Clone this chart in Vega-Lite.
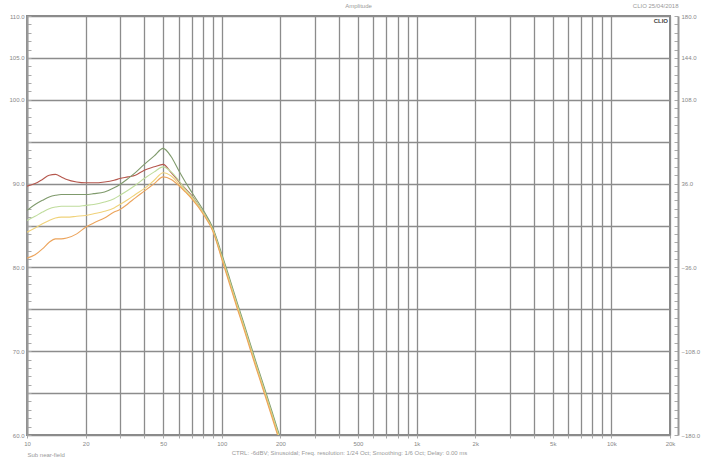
{
  "$schema": "https://vega.github.io/schema/vega-lite/v6.json",
  "autosize": "none",
  "width": 643,
  "height": 419,
  "padding": {"left": 27, "top": 16, "right": 35, "bottom": 32},
  "background": "white",
  "config": {
    "view": {"stroke": "#8a8a8a", "strokeWidth": 2},
    "font": "Liberation Sans",
    "axis": {"labelFontSize": 6, "labelColor": "#888", "titleFontSize": 6, "titleColor": "#999", "titleFontWeight": "normal", "labelOverlap": false}
  },
  "title": {"text": "Amplitude", "anchor": "middle", "fontSize": 6, "color": "#999", "fontWeight": "normal", "offset": -7, "dx": 10},
  "datasets": {
    "curves": [
      {"f":10,"db":89.7,"s":"red"},{"f":11,"db":90.0,"s":"red"},{"f":12,"db":90.5,"s":"red"},{"f":13,"db":91.0,"s":"red"},{"f":14,"db":91.1,"s":"red"},{"f":15,"db":90.8,"s":"red"},{"f":16,"db":90.5,"s":"red"},{"f":18,"db":90.2,"s":"red"},{"f":20,"db":90.1,"s":"red"},{"f":22,"db":90.1,"s":"red"},{"f":25,"db":90.2,"s":"red"},{"f":28,"db":90.4,"s":"red"},{"f":30,"db":90.6,"s":"red"},{"f":33,"db":90.8,"s":"red"},{"f":36,"db":91.0,"s":"red"},{"f":40,"db":91.6,"s":"red"},{"f":45,"db":92.0,"s":"red"},{"f":50,"db":92.3,"s":"red"},{"f":55,"db":91.3,"s":"red"},{"f":60,"db":90.3,"s":"red"},{"f":65,"db":89.4,"s":"red"},{"f":70,"db":88.6,"s":"red"},{"f":80,"db":86.6,"s":"red"},{"f":90,"db":84.6,"s":"red"},{"f":100,"db":81.3,"s":"red"},{"f":110,"db":78.3,"s":"red"},{"f":120,"db":75.5,"s":"red"},{"f":130,"db":73.0,"s":"red"},{"f":140,"db":70.6,"s":"red"},{"f":150,"db":68.4,"s":"red"},{"f":160,"db":66.4,"s":"red"},{"f":180,"db":62.7,"s":"red"},{"f":200,"db":59.3,"s":"red"},
      {"f":10,"db":86.8,"s":"dkgreen"},{"f":11,"db":87.5,"s":"dkgreen"},{"f":12,"db":88.0,"s":"dkgreen"},{"f":13,"db":88.4,"s":"dkgreen"},{"f":14,"db":88.6,"s":"dkgreen"},{"f":15,"db":88.7,"s":"dkgreen"},{"f":16,"db":88.7,"s":"dkgreen"},{"f":18,"db":88.7,"s":"dkgreen"},{"f":20,"db":88.7,"s":"dkgreen"},{"f":22,"db":88.8,"s":"dkgreen"},{"f":25,"db":89.0,"s":"dkgreen"},{"f":28,"db":89.5,"s":"dkgreen"},{"f":30,"db":89.9,"s":"dkgreen"},{"f":33,"db":90.6,"s":"dkgreen"},{"f":36,"db":91.3,"s":"dkgreen"},{"f":40,"db":92.3,"s":"dkgreen"},{"f":45,"db":93.3,"s":"dkgreen"},{"f":50,"db":94.2,"s":"dkgreen"},{"f":55,"db":93.2,"s":"dkgreen"},{"f":60,"db":91.6,"s":"dkgreen"},{"f":65,"db":90.2,"s":"dkgreen"},{"f":70,"db":89.0,"s":"dkgreen"},{"f":80,"db":86.9,"s":"dkgreen"},{"f":90,"db":84.7,"s":"dkgreen"},{"f":100,"db":81.6,"s":"dkgreen"},{"f":110,"db":78.6,"s":"dkgreen"},{"f":120,"db":75.8,"s":"dkgreen"},{"f":130,"db":73.3,"s":"dkgreen"},{"f":140,"db":70.9,"s":"dkgreen"},{"f":150,"db":68.7,"s":"dkgreen"},{"f":160,"db":66.7,"s":"dkgreen"},{"f":180,"db":63.0,"s":"dkgreen"},{"f":200,"db":59.6,"s":"dkgreen"},
      {"f":10,"db":85.6,"s":"ltgreen"},{"f":11,"db":86.1,"s":"ltgreen"},{"f":12,"db":86.6,"s":"ltgreen"},{"f":13,"db":87.0,"s":"ltgreen"},{"f":14,"db":87.2,"s":"ltgreen"},{"f":15,"db":87.3,"s":"ltgreen"},{"f":16,"db":87.3,"s":"ltgreen"},{"f":18,"db":87.3,"s":"ltgreen"},{"f":20,"db":87.4,"s":"ltgreen"},{"f":22,"db":87.5,"s":"ltgreen"},{"f":25,"db":87.8,"s":"ltgreen"},{"f":28,"db":88.2,"s":"ltgreen"},{"f":30,"db":88.6,"s":"ltgreen"},{"f":33,"db":89.2,"s":"ltgreen"},{"f":36,"db":89.8,"s":"ltgreen"},{"f":40,"db":90.6,"s":"ltgreen"},{"f":45,"db":91.4,"s":"ltgreen"},{"f":50,"db":92.0,"s":"ltgreen"},{"f":55,"db":91.4,"s":"ltgreen"},{"f":60,"db":90.4,"s":"ltgreen"},{"f":65,"db":89.3,"s":"ltgreen"},{"f":70,"db":88.5,"s":"ltgreen"},{"f":80,"db":86.6,"s":"ltgreen"},{"f":90,"db":84.5,"s":"ltgreen"},{"f":100,"db":81.3,"s":"ltgreen"},{"f":110,"db":78.3,"s":"ltgreen"},{"f":120,"db":75.5,"s":"ltgreen"},{"f":130,"db":73.0,"s":"ltgreen"},{"f":140,"db":70.6,"s":"ltgreen"},{"f":150,"db":68.4,"s":"ltgreen"},{"f":160,"db":66.4,"s":"ltgreen"},{"f":180,"db":62.7,"s":"ltgreen"},{"f":200,"db":59.3,"s":"ltgreen"},
      {"f":10,"db":84.2,"s":"yellow"},{"f":11,"db":84.7,"s":"yellow"},{"f":12,"db":85.2,"s":"yellow"},{"f":13,"db":85.6,"s":"yellow"},{"f":14,"db":85.9,"s":"yellow"},{"f":15,"db":86.0,"s":"yellow"},{"f":16,"db":86.0,"s":"yellow"},{"f":18,"db":86.1,"s":"yellow"},{"f":20,"db":86.2,"s":"yellow"},{"f":22,"db":86.4,"s":"yellow"},{"f":25,"db":86.7,"s":"yellow"},{"f":28,"db":87.1,"s":"yellow"},{"f":30,"db":87.5,"s":"yellow"},{"f":33,"db":88.1,"s":"yellow"},{"f":36,"db":88.7,"s":"yellow"},{"f":40,"db":89.4,"s":"yellow"},{"f":45,"db":90.4,"s":"yellow"},{"f":50,"db":91.3,"s":"yellow"},{"f":55,"db":90.9,"s":"yellow"},{"f":60,"db":90.0,"s":"yellow"},{"f":65,"db":89.1,"s":"yellow"},{"f":70,"db":88.3,"s":"yellow"},{"f":80,"db":86.5,"s":"yellow"},{"f":90,"db":84.4,"s":"yellow"},{"f":100,"db":81.1,"s":"yellow"},{"f":110,"db":78.1,"s":"yellow"},{"f":120,"db":75.3,"s":"yellow"},{"f":130,"db":72.8,"s":"yellow"},{"f":140,"db":70.4,"s":"yellow"},{"f":150,"db":68.2,"s":"yellow"},{"f":160,"db":66.2,"s":"yellow"},{"f":180,"db":62.5,"s":"yellow"},{"f":200,"db":59.1,"s":"yellow"},
      {"f":10,"db":81.1,"s":"orange"},{"f":11,"db":81.5,"s":"orange"},{"f":12,"db":82.2,"s":"orange"},{"f":13,"db":83.0,"s":"orange"},{"f":14,"db":83.4,"s":"orange"},{"f":15,"db":83.4,"s":"orange"},{"f":16,"db":83.5,"s":"orange"},{"f":18,"db":84.0,"s":"orange"},{"f":20,"db":84.8,"s":"orange"},{"f":22,"db":85.3,"s":"orange"},{"f":25,"db":85.9,"s":"orange"},{"f":28,"db":86.6,"s":"orange"},{"f":30,"db":86.9,"s":"orange"},{"f":33,"db":87.6,"s":"orange"},{"f":36,"db":88.3,"s":"orange"},{"f":40,"db":89.1,"s":"orange"},{"f":45,"db":90.0,"s":"orange"},{"f":50,"db":90.8,"s":"orange"},{"f":55,"db":90.5,"s":"orange"},{"f":60,"db":89.8,"s":"orange"},{"f":65,"db":89.0,"s":"orange"},{"f":70,"db":88.2,"s":"orange"},{"f":80,"db":86.4,"s":"orange"},{"f":90,"db":84.3,"s":"orange"},{"f":100,"db":81.0,"s":"orange"},{"f":110,"db":77.9,"s":"orange"},{"f":120,"db":75.1,"s":"orange"},{"f":130,"db":72.6,"s":"orange"},{"f":140,"db":70.2,"s":"orange"},{"f":150,"db":68.0,"s":"orange"},{"f":160,"db":66.0,"s":"orange"},{"f":180,"db":62.3,"s":"orange"},{"f":200,"db":58.9,"s":"orange"}
    ],
    "tags": [{"f": 20000, "db": 110, "label": "CLIO"}]
  },
  "layer": [
    {
      "data": {"name": "curves"},
      "mark": {"type": "line", "strokeWidth": 1.1, "clip": true, "interpolate": "monotone"},
      "encoding": {
        "x": {
          "field": "f", "type": "quantitative",
          "scale": {"type": "log", "domain": [10, 20000], "nice": false},
          "axis": {
            "values": [10,20,30,40,50,60,70,80,90,100,200,300,400,500,600,700,800,900,1000,2000,3000,4000,5000,6000,7000,8000,9000,10000,20000],
            "grid": true, "gridColor": "#8c8c8c", "gridWidth": 1.3, "gridOpacity": 1,
            "domain": false, "ticks": true, "tickColor": "#aaa", "tickSize": 3,
            "labelPadding": 2, "labelFlush": false,
            "labelExpr": "indexof([10,20,50,100,200,500,1000,2000,5000,10000,20000], datum.value) >= 0 ? (datum.value >= 1000 ? (datum.value/1000) + 'k' : datum.value + '') : ''",
            "title": "CTRL: -6dBV;  Sinusoidal;  Freq. resolution: 1/24 Oct;  Smoothing: 1/6 Oct;  Delay: 0.00 ms",
            "titleY": 14, "titleX": 322, "titleFontSize": 6
          }
        },
        "y": {
          "field": "db", "type": "quantitative",
          "scale": {"domain": [60, 110], "nice": false, "zero": false},
          "axis": {
            "values": [60,61,62,63,64,65,66,67,68,69,70,71,72,73,74,75,76,77,78,79,80,81,82,83,84,85,86,87,88,89,90,91,92,93,94,95,96,97,98,99,100,101,102,103,104,105,106,107,108,109,110],
            "grid": true, "gridColor": "#8c8c8c", "gridWidth": 1.3,
            "gridOpacity": {"condition": {"test": "datum.value % 5 === 0", "value": 1}, "value": 0},
            "domain": true, "domainColor": "#999", "domainWidth": 2,
            "ticks": true, "tickColor": "#aaa", "tickSize": -4,
            "labelPadding": 7,
            "labelExpr": "indexof([110,105,100,90,80,70,60], datum.value) >= 0 ? datum.value + '.0' : ''",
            "title": "Sub near-field", "titleAngle": 0, "titleX": 0, "titleY": 441, "titleAlign": "left", "titleFontSize": 6
          }
        },
        "color": {
          "field": "s", "type": "nominal", "legend": null,
          "scale": {"domain": ["red","dkgreen","ltgreen","yellow","orange"], "range": ["#b5574d","#7f9a6c","#bfdc9c","#f0d27a","#eca45c"]}
        }
      }
    },
    {
      "data": {"name": "curves"},
      "mark": {"type": "line", "opacity": 0, "clip": true},
      "encoding": {
        "x": {"field": "f", "type": "quantitative", "scale": {"type": "log", "domain": [10, 20000], "nice": false}},
        "y": {
          "field": "db", "type": "quantitative",
          "scale": {"domain": [60, 110], "nice": false, "zero": false},
          "axis": {
            "orient": "right", "offset": 8, "grid": false,
            "values": [60,61,62,63,64,65,66,67,68,69,70,71,72,73,74,75,76,77,78,79,80,81,82,83,84,85,86,87,88,89,90,91,92,93,94,95,96,97,98,99,100,101,102,103,104,105,106,107,108,109,110],
            "domain": true, "domainColor": "#999", "domainWidth": 2,
            "ticks": true, "tickColor": "#aaa", "tickSize": -4,
            "labelPadding": 7,
            "labelExpr": "indexof([110,105,100,90,80,70,60], datum.value) >= 0 ? format((datum.value - 85) * 7.2, '.1f') : ''",
            "title": "CLIO  25/04/2018", "titleAngle": 0, "titleX": 0, "titleY": -8, "titleAlign": "right", "titleFontSize": 6
          }
        }
      }
    },
    {
      "data": {"name": "tags"},
      "mark": {"type": "text", "fontSize": 6, "fontWeight": "bold", "fill": "#444", "align": "right", "baseline": "top", "dx": -2, "dy": 2},
      "encoding": {
        "x": {"field": "f", "type": "quantitative"},
        "y": {"field": "db", "type": "quantitative", "axis": null},
        "text": {"field": "label"}
      }
    }
  ],
  "resolve": {"axis": {"y": "independent"}}
}
